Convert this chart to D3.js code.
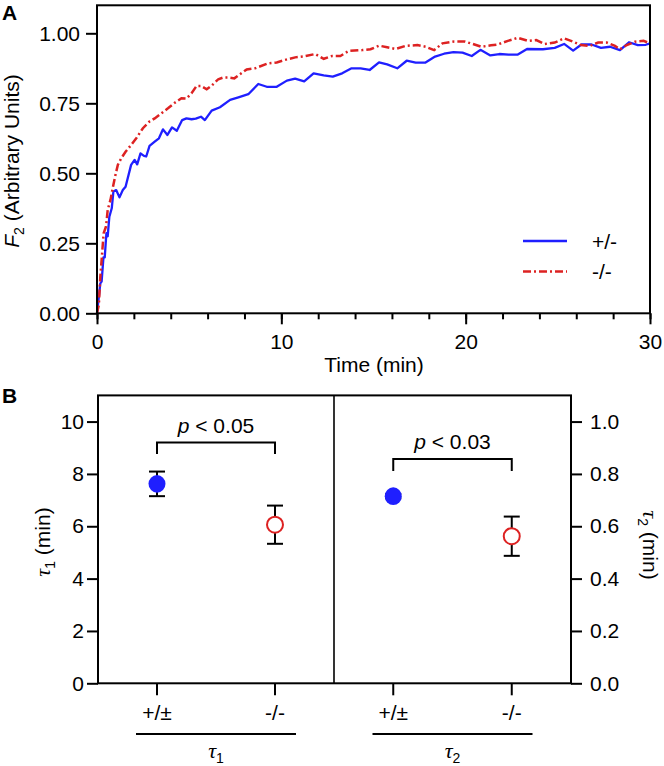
<!DOCTYPE html>
<html><head><meta charset="utf-8">
<script src="https://cdn.jsdelivr.net/npm/d3@7"></script>
<style>
body{margin:0;background:#fff;}
svg{display:block;font-family:"Liberation Sans",Arial,Helvetica,sans-serif;}
.tau{font-family:"Liberation Serif","Times New Roman",serif;font-style:italic;}
</style></head><body>
<svg id="c" width="664" height="766"></svg>
<script>
// ---------- Panel A data ----------
const timeHet = [0,0.18,0.25,0.35,0.42,0.51,0.58,0.67,0.8,0.89,1.04,1.22,1.4,1.55,1.85,2.04,2.18,2.36,2.55,2.67,2.85,3.13,3.36,3.58,3.82,4.07,4.33,4.62,4.85,5.13,5.36,5.64,5.85,6.22,6.67,7.22,7.67,8.21,8.75,9.21,9.75,10.3,10.75,11.24,11.75,12.3,12.79,13.3,13.81,14.3,14.79,15.3,15.74,16.29,16.8,17.29,17.8,18.34,18.83,19.34,19.83,20.33,20.8,21.34,21.83,22.33,22.83,23.33,24.19,24.83,25.34,25.83,26.28,26.83,27.34,27.83,28.37,28.86,29.34,29.77,30];
const f2Het = [0,0.107,0.113,0.2,0.2,0.286,0.275,0.345,0.375,0.435,0.44,0.414,0.44,0.452,0.53,0.548,0.532,0.571,0.562,0.56,0.598,0.613,0.625,0.657,0.637,0.664,0.652,0.69,0.696,0.693,0.695,0.702,0.69,0.724,0.736,0.762,0.771,0.7825,0.819,0.809,0.809,0.831,0.838,0.828,0.857,0.85,0.845,0.857,0.875,0.875,0.869,0.896,0.889,0.875,0.902,0.895,0.895,0.917,0.927,0.933,0.931,0.919,0.941,0.921,0.926,0.924,0.924,0.944,0.943,0.948,0.962,0.938,0.96,0.96,0.948,0.952,0.94,0.968,0.958,0.959,0.964];
const timeKo = [0,0.1,0.18,0.25,0.36,0.49,0.58,0.73,0.85,0.98,1.13,1.31,1.55,1.85,2.13,2.49,2.85,3.13,3.49,3.85,4.22,4.58,4.85,5.13,5.4,5.64,5.95,6.22,6.58,6.85,7.13,7.45,7.76,8.12,8.57,9.3,9.75,10.2,10.75,11.2,11.84,12.3,12.75,13.2,13.66,14.39,14.84,15.3,15.74,16.2,16.74,17.38,17.83,18.29,18.74,19.38,19.93,20.38,20.84,21.38,21.74,22.29,22.83,23.38,23.83,24.28,24.83,25.34,25.83,26.25,26.74,27.19,27.65,28.1,28.37,28.74,29.19,29.65,30];
const f2Ko = [0,0.03,0.13,0.19,0.286,0.31,0.369,0.405,0.446,0.488,0.53,0.553,0.577,0.601,0.625,0.661,0.685,0.696,0.714,0.732,0.752,0.768,0.767,0.786,0.812,0.812,0.8,0.813,0.836,0.842,0.842,0.839,0.854,0.871,0.875,0.893,0.896,0.905,0.914,0.917,0.926,0.909,0.919,0.919,0.937,0.94,0.943,0.956,0.95,0.944,0.955,0.958,0.952,0.94,0.964,0.971,0.971,0.962,0.952,0.957,0.96,0.973,0.984,0.973,0.976,0.962,0.967,0.982,0.97,0.958,0.955,0.967,0.967,0.955,0.943,0.958,0.97,0.973,0.964];
const xTicksA = [0,10,20,30];
const xMinorTicksA = [0,2,4,6,8,10,12,14,16,18,20,22,24,26,28,30];
const yTicksA = [0,0.25,0.5,0.75,1.0];
const legendLabels = ["+/-","-/-"];

// ---------- Panel B data ----------
const genotypes = ["+/±","-/-"];
const tau1Mean = [7.62, 6.06];
const tau1Err  = [0.47, 0.73];
const tau2Mean = [0.715, 0.562];
const tau2Err  = [0.008, 0.075];
const yTicksL = [0,2,4,6,8,10];
const yTicksR = [0,0.2,0.4,0.6,0.8,1.0];
const pLabels = ["0.05","0.03"];

const BLUE = "#1f1fff", RED = "#dd2222";
const FS = 21;
const svg = d3.select("#c");

function styleAxis(g){
  g.selectAll(".domain").remove();
  g.selectAll(".tick line").attr("stroke","#000").attr("stroke-width",2);
  g.selectAll(".tick text").attr("fill","#000").style("font-size",FS+"px").style("font-family","'Liberation Sans',Arial,sans-serif");
}

// ================= Panel A =================
const xA = d3.scaleLinear().domain([0,30]).range([97,650]);
const yA = d3.scaleLinear().domain([0,1.1]).range([313.3,5.3]);
const gA = svg.append("g");

gA.append("g").attr("transform","translate(0,313.3)")
  .call(d3.axisBottom(xA).tickValues(xMinorTicksA).tickSize(6).tickFormat(""))
  .call(styleAxis);
gA.append("g").attr("transform","translate(0,313.3)")
  .call(d3.axisBottom(xA).tickValues(xTicksA).tickSize(11).tickPadding(10).tickFormat(d3.format("d")))
  .call(styleAxis);
gA.append("g").attr("transform","translate(97,0)")
  .call(d3.axisLeft(yA).tickValues(yTicksA).tickSize(11).tickPadding(6).tickFormat(d3.format(".2f")))
  .call(styleAxis);

const lineA = d3.line().x(d=>xA(d[0])).y(d=>yA(d[1]));
gA.append("path").datum(d3.zip(timeHet,f2Het)).attr("d",lineA)
  .attr("fill","none").attr("stroke",BLUE).attr("stroke-width",2.3).attr("stroke-linejoin","round");
gA.append("path").datum(d3.zip(timeKo,f2Ko)).attr("d",lineA)
  .attr("fill","none").attr("stroke",RED).attr("stroke-width",2.5).attr("stroke-dasharray","8,3,2,3");

gA.append("rect").attr("x",97).attr("y",5.3).attr("width",553).attr("height",308)
  .attr("fill","none").attr("stroke","#000").attr("stroke-width",2);

// legend
const legY = [241, 271.5];
const legStyles = [{c:BLUE,w:2.3,d:null},{c:RED,w:2.5,d:"8,3,2,3"}];
legendLabels.forEach((lab,i)=>{
  gA.append("line").attr("x1",523).attr("x2",567).attr("y1",legY[i]).attr("y2",legY[i])
    .attr("stroke",legStyles[i].c).attr("stroke-width",legStyles[i].w).attr("stroke-dasharray",legStyles[i].d);
  gA.append("text").attr("x",592).attr("y",legY[i]+7.5).style("font-size",FS+"px").text(lab);
});

// axis titles
gA.append("text").attr("x",374).attr("y",372).attr("text-anchor","middle").style("font-size",FS+"px").text("Time (min)");
const yt = gA.append("text").attr("transform","translate(19,161) rotate(-90)").attr("text-anchor","middle").style("font-size",FS+"px");
yt.append("tspan").style("font-style","italic").text("F");
yt.append("tspan").attr("dy",5).style("font-size","14px").text("2");
yt.append("tspan").attr("dy",-5).text(" (Arbitrary Units)");

svg.append("text").attr("x",2).attr("y",20).style("font-size","21px").style("font-weight","bold").text("A");
svg.append("text").attr("x",2).attr("y",403).style("font-size","21px").style("font-weight","bold").text("B");

// ================= Panel B =================
const yL = d3.scaleLinear().domain([0,11]).range([683.3,395.4]);
const yR = d3.scaleLinear().domain([0,1.1]).range([683.3,395.4]);
const xL = d3.scaleBand().domain(genotypes).range([98,334]);
const xR = d3.scaleBand().domain(genotypes).range([334,571]);
const gB = svg.append("g");

gB.append("g").attr("transform","translate(98,0)")
  .call(d3.axisLeft(yL).tickValues(yTicksL).tickSize(11).tickPadding(3).tickFormat(d3.format("d")))
  .call(styleAxis);
gB.append("g").attr("transform","translate(571,0)")
  .call(d3.axisRight(yR).tickValues(yTicksR).tickSize(11).tickPadding(8).tickFormat(d3.format(".1f")))
  .call(styleAxis);
[xL,xR].forEach(sc=>{
  gB.append("g").attr("transform","translate(0,683.3)")
    .call(d3.axisBottom(sc).tickSize(12).tickPadding(10))
    .call(styleAxis);
});

gB.append("rect").attr("x",98).attr("y",395.4).attr("width",473).attr("height",287.9)
  .attr("fill","none").attr("stroke","#000").attr("stroke-width",2);
gB.append("line").attr("x1",334).attr("x2",334).attr("y1",395.4).attr("y2",683.3)
  .attr("stroke","#000").attr("stroke-width",1.6);

const panels = [
  {x:xL, y:yL, mean:tau1Mean, err:tau1Err, bracket:[9.2,8.76], p:pLabels[0], sub:"1"},
  {x:xR, y:yR, mean:tau2Mean, err:tau2Err, bracket:[0.857,0.811], p:pLabels[1], sub:"2"}
];
panels.forEach(P=>{
  const cx = g=>P.x(g)+P.x.bandwidth()/2;
  genotypes.forEach((g,i)=>{
    const x = cx(g), m = P.mean[i], e = P.err[i];
    const eg = gB.append("g").attr("stroke","#000").attr("stroke-width",2);
    eg.append("line").attr("x1",x).attr("x2",x).attr("y1",P.y(m-e)).attr("y2",P.y(m+e));
    eg.append("line").attr("x1",x-8).attr("x2",x+8).attr("y1",P.y(m-e)).attr("y2",P.y(m-e));
    eg.append("line").attr("x1",x-8).attr("x2",x+8).attr("y1",P.y(m+e)).attr("y2",P.y(m+e));
    if(i===0){
      gB.append("ellipse").attr("cx",x).attr("cy",P.y(m)).attr("rx",8.5).attr("ry",8.8).attr("fill",BLUE);
    } else {
      gB.append("circle").attr("cx",x).attr("cy",P.y(m)).attr("r",8).attr("fill","#fff").attr("stroke",RED).attr("stroke-width",2);
    }
  });
  const x1 = cx(genotypes[0]), x2 = cx(genotypes[1]);
  const yb = P.y(P.bracket[0]), yl = P.y(P.bracket[1]);
  gB.append("path").attr("d",`M${x1},${yl}V${yb}H${x2}V${yl}`).attr("fill","none").attr("stroke","#000").attr("stroke-width",2);
  const pt = gB.append("text").attr("x",(x1+x2)/2).attr("y",yb-10).attr("text-anchor","middle").style("font-size",FS+"px");
  pt.append("tspan").style("font-style","italic").text("p");
  pt.append("tspan").text(" < "+P.p);
  // group underline & label
  const mid = (x1+x2)/2;
  gB.append("line").attr("x1",mid-80).attr("x2",mid+80).attr("y1",734).attr("y2",734).attr("stroke","#000").attr("stroke-width",2);
  const tl = gB.append("text").attr("x",mid).attr("y",758).attr("text-anchor","middle").style("font-size","22px");
  tl.append("tspan").attr("class","tau").text("τ");
  tl.append("tspan").attr("dy",5).style("font-size","14px").text(P.sub);
});

// Panel B axis titles
const tl1 = gB.append("text").attr("transform","translate(50,542) rotate(-90)").attr("text-anchor","middle").style("font-size",FS+"px");
tl1.append("tspan").attr("class","tau").style("font-size","22px").text("τ");
tl1.append("tspan").attr("dy",5).style("font-size","14px").text("1");
tl1.append("tspan").attr("dy",-5).text(" (min)");
const tr1 = gB.append("text").attr("transform","translate(643,545) rotate(90)").attr("text-anchor","middle").style("font-size",FS+"px");
tr1.append("tspan").attr("class","tau").style("font-size","22px").text("τ");
tr1.append("tspan").attr("dy",5).style("font-size","14px").text("2");
tr1.append("tspan").attr("dy",-5).text(" (min)");
</script>
</body></html>
